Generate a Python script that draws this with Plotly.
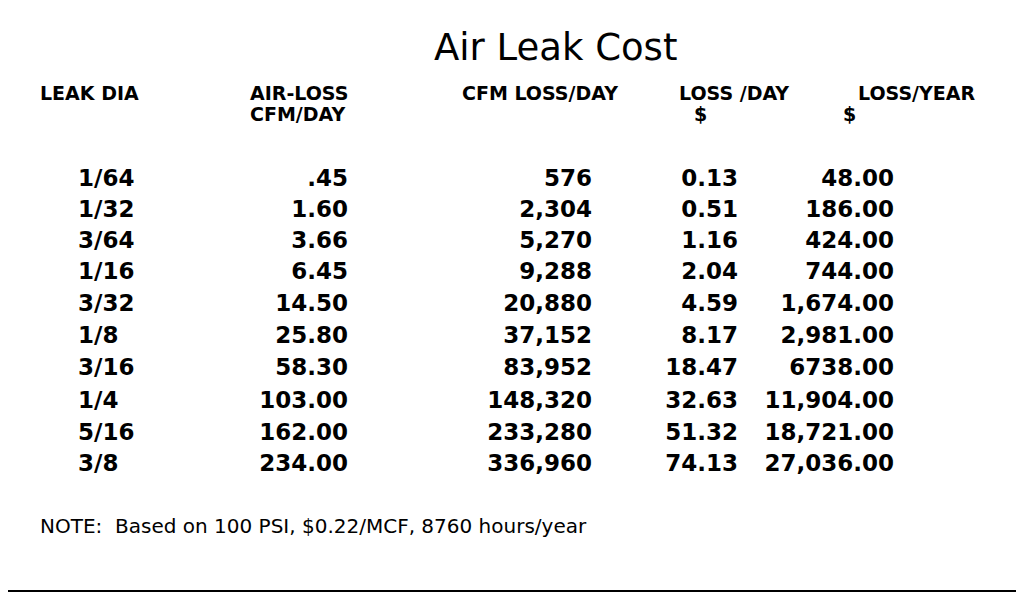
import plotly.graph_objects as go

leak_dia = ["1/64", "1/32", "3/64", "1/16", "3/32", "1/8", "3/16", "1/4", "5/16", "3/8"]
air_loss = [".45", "1.60", "3.66", "6.45", "14.50", "25.80", "58.30", "103.00", "162.00", "234.00"]
cfm_day = ["576", "2,304", "5,270", "9,288", "20,880", "37,152", "83,952", "148,320", "233,280", "336,960"]
loss_day = ["0.13", "0.51", "1.16", "2.04", "4.59", "8.17", "18.47", "32.63", "51.32", "74.13"]
loss_year = ["48.00", "186.00", "424.00", "744.00", "1,674.00", "2,981.00", "6738.00",
             "11,904.00", "18,721.00", "27,036.00"]

row_y = [180, 211, 242, 273, 305, 337, 369, 402, 434, 465]
FONT = "DejaVu Sans, Verdana, sans-serif"

fig = go.Figure()

# data columns: (values, x position, alignment)
columns = [
    (leak_dia, 78, "left"),
    (air_loss, 348, "right"),
    (cfm_day, 592, "right"),
    (loss_day, 738, "right"),
    (loss_year, 894, "right"),
]
for vals, xpos, align in columns:
    fig.add_trace(go.Scatter(
        x=[xpos] * len(vals), y=row_y, mode="text", text=vals,
        textposition="middle right" if align == "left" else "middle left",
        textfont=dict(family=FONT, size=23, color="black"),
        hoverinfo="skip", showlegend=False,
    ))

headers = [
    ("LEAK DIA", 38, 93), ("AIR-LOSS", 248, 93), ("CFM/DAY", 248, 114),
    ("CFM LOSS/DAY", 460, 93), ("LOSS /DAY", 677, 93), ("$", 692, 114),
    ("LOSS/YEAR", 856, 93), ("$", 841, 114),
]
for txt, hx, hy in headers:
    fig.add_annotation(x=hx, y=hy, text="<b>" + txt + "</b>", showarrow=False,
                       xanchor="left", yanchor="middle",
                       font=dict(family=FONT, size=19, color="black"))

fig.add_annotation(x=555, y=47, text="Air Leak Cost", showarrow=False,
                   xanchor="center", yanchor="middle",
                   font=dict(family=FONT, size=37, color="black"))
fig.add_annotation(x=38, y=526, text="NOTE:  Based on 100 PSI, $0.22/MCF, 8760 hours/year",
                   showarrow=False, xanchor="left", yanchor="middle",
                   font=dict(family=FONT, size=20, color="black"))

fig.add_shape(type="rect", x0=3, x1=1018, y0=3, y1=591,
              line=dict(color="black", width=2), xref="x", yref="y")

fig.update_traces(texttemplate="<b>%{text}</b>")
# page body has an 8px margin, so the axis ranges are shifted to compensate
fig.update_layout(
    width=1024, height=598, margin=dict(l=0, r=0, t=0, b=0),
    plot_bgcolor="white", paper_bgcolor="white",
    xaxis=dict(range=[8, 1032], visible=False, fixedrange=True),
    yaxis=dict(range=[606, 8], visible=False, fixedrange=True),
)
fig.write_html("out.html", config={"displayModeBar": False})
